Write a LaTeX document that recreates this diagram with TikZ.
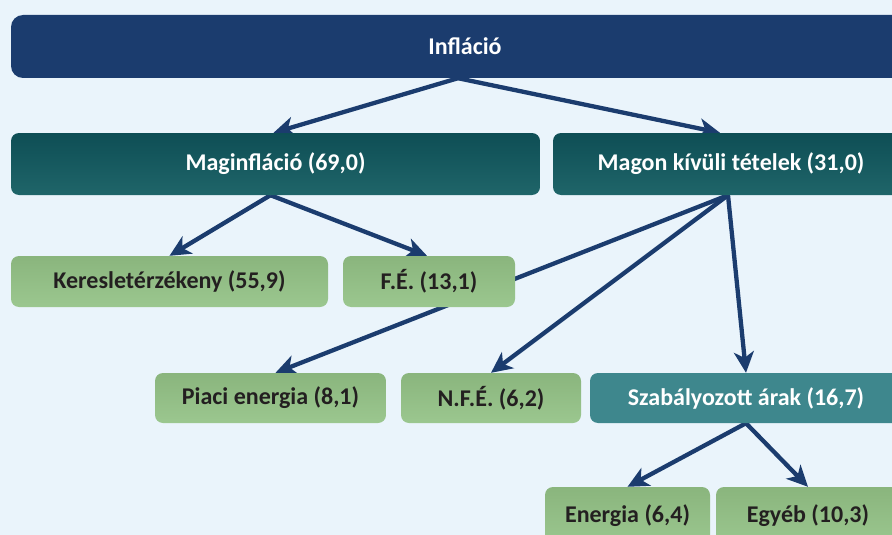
\documentclass[tikz,border=0pt]{standalone}
\usepackage{fontspec}
\setmainfont{Carlito}
\usetikzlibrary{arrows.meta}
\usetikzlibrary{backgrounds}
\definecolor{BgBlue}{HTML}{EAF4FB}
\definecolor{NavyBlue}{HTML}{1B3C6E}
\definecolor{TealTop}{HTML}{0E4E55}
\definecolor{TealBottom}{HTML}{1F6569}
\definecolor{GreenTop}{HTML}{8AB57D}
\definecolor{GreenBottom}{HTML}{9BC78F}
\definecolor{SzabTeal}{HTML}{3E878D}
\definecolor{DarkText}{HTML}{231F20}
\tikzset{
    box/.style={inner sep=0,rounded corners=8pt,minimum height=51pt,font=\fontsize{24}{28}\selectfont\bfseries},
    navybox/.style={box,fill=NavyBlue,text=white,rounded corners=12pt,minimum height=63pt},
    tealbox/.style={box,top color=TealTop,bottom color=TealBottom,text=white,minimum height=62pt},
    greenbox/.style={box,top color=GreenTop,bottom color=GreenBottom,text=DarkText},
    szabbox/.style={box,fill=SzabTeal,text=white},
    link/.style={line width=4.3pt,draw=NavyBlue,-{Stealth[length=21pt,width=20pt,inset=6pt]}}
}
\begin{document}
\begin{tikzpicture}[x=1pt,y=-1pt]
        \useasboundingbox (0,0) rectangle (892,535);
        % Level 0
        \node[navybox,minimum width=908pt] (Inflacio) at (465,46.5) {Infláció};
        % Level 1
        \node[tealbox,minimum width=529pt] (Maginflacio) at (275.5,164) {Maginfláció (69,0)};
        \node[tealbox,minimum width=356pt] (MagonKivuli) at (731,164) {Magon kívüli tételek (31,0)};
        % Level 2
        \node[greenbox,minimum width=317pt] (Kereslet) at (169.5,281.5) {Keresletérzékeny (55,9)};
        \node[greenbox,minimum width=172pt] (FE) at (429,281.5) {F.É. (13,1)};
        % Level 3
        \node[greenbox,minimum width=231pt,minimum height=50pt] (PiaciEnergia) at (270.5,398) {Piaci energia (8,1)};
        \node[greenbox,minimum width=180pt,minimum height=50pt] (NFE) at (491,398) {N.F.É. (6,2)};
        \node[szabbox,minimum width=312pt,minimum height=50pt] (Szabalyozott) at (746,398) {Szabályozott árak (16,7)};
        % Level 4
        \node[greenbox,minimum width=165pt,minimum height=58pt] (Energia) at (627.5,516) {Energia (6,4)};
        \node[greenbox,minimum width=184pt,minimum height=58pt] (Egyeb) at (808,516) {Egyéb (10,3)};
        % Background and arrows
        \begin{scope}[on background layer]
            \fill[BgBlue] (0,0) rectangle (892,535);
            \draw[link] ([xshift=-7pt]Inflacio.south) -- ([xshift=-2pt]Maginflacio.north);
            \draw[link] ([xshift=-7pt]Inflacio.south) -- ([xshift=-11pt]MagonKivuli.north);
            \draw[link] ([xshift=-5pt]Maginflacio.south) -- (Kereslet.north);
            \draw[link] ([xshift=-5pt]Maginflacio.south) -- ([xshift=-2pt]FE.north);
            \draw[link] ([xshift=-3pt]MagonKivuli.south) -- ([xshift=5pt]PiaciEnergia.north);
            \draw[link] ([xshift=-3pt]MagonKivuli.south) -- (NFE.north);
            \draw[link] ([xshift=-3pt]MagonKivuli.south) -- (Szabalyozott.north);
            \draw[link] (Szabalyozott.south) -- (Energia.north);
            \draw[link] (Szabalyozott.south) -- (Egyeb.north);
        \end{scope}
    \end{tikzpicture}
\end{document}
